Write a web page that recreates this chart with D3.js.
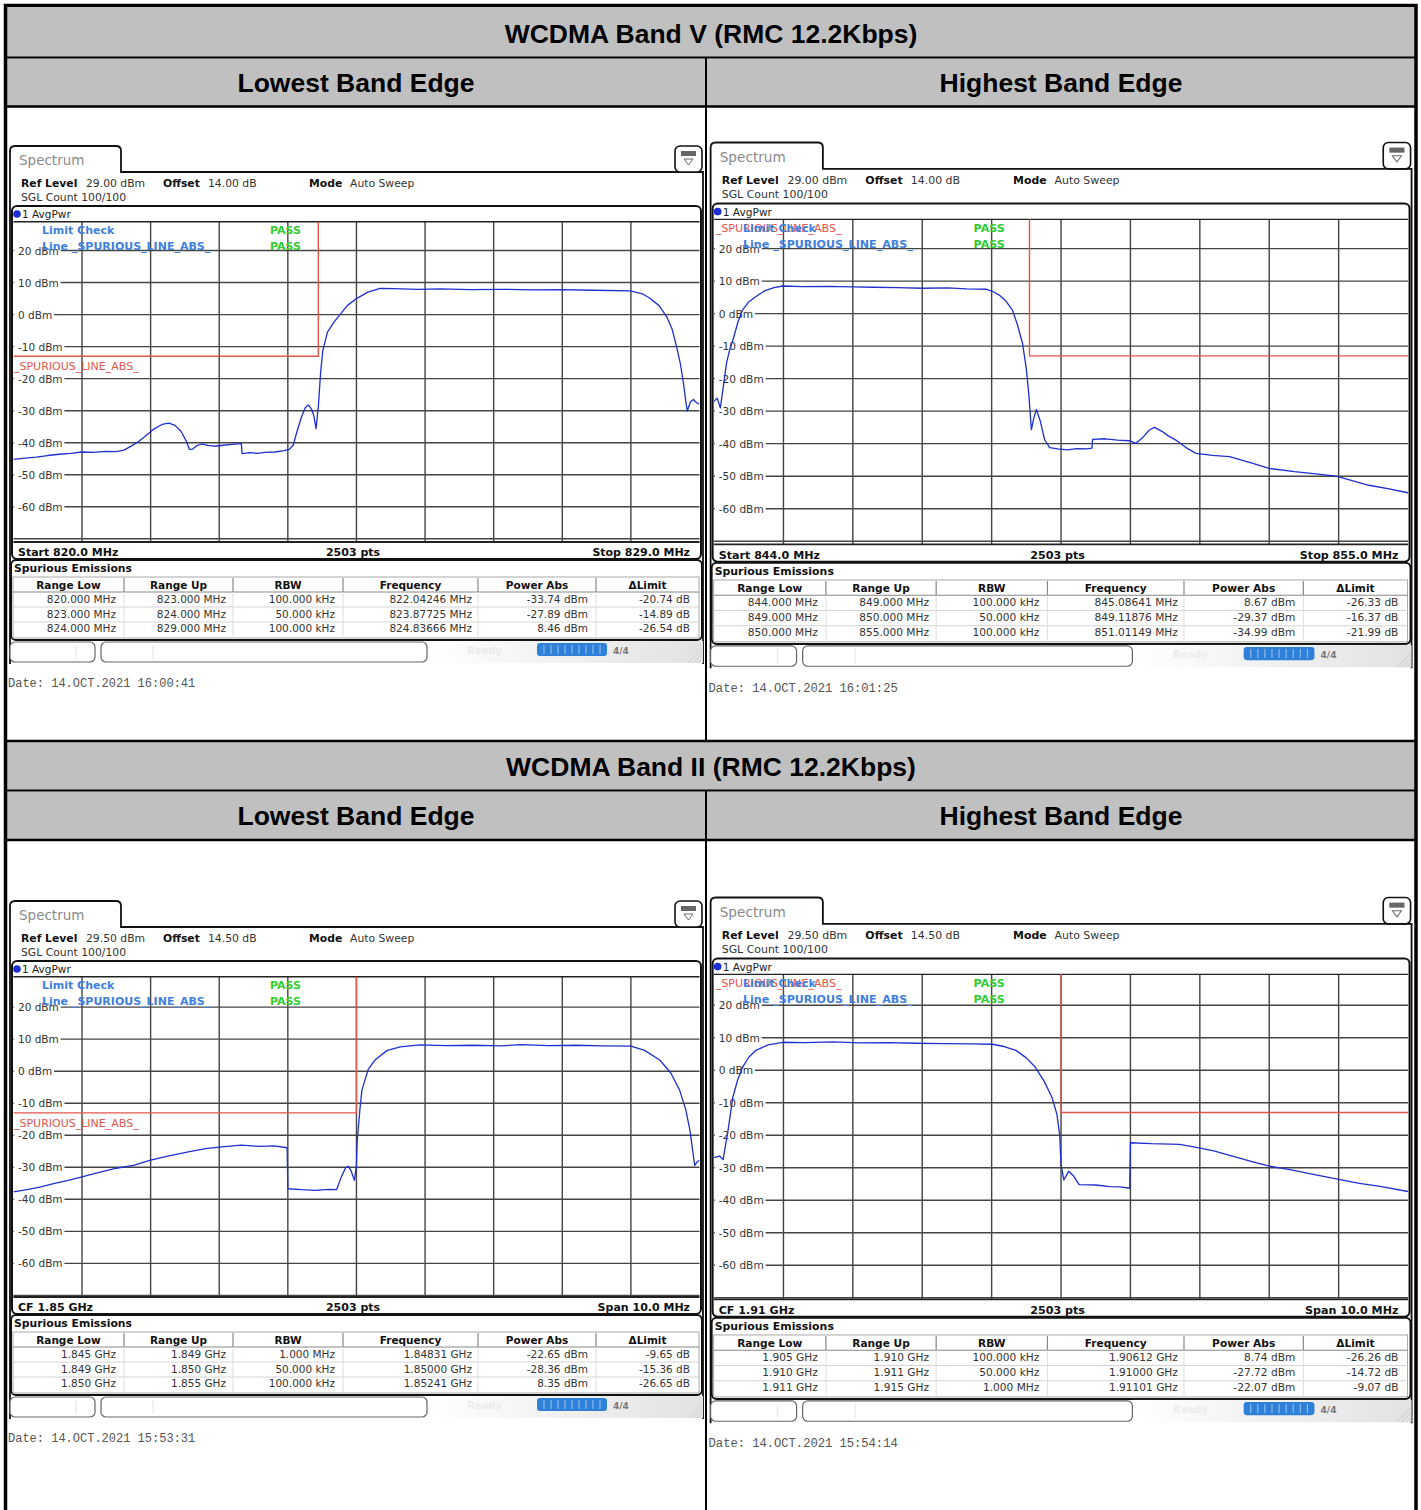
<!DOCTYPE html>
<html>
<head>
<meta charset="utf-8">
<script src="https://cdn.jsdelivr.net/npm/d3@7"></script>
<style>
  body { margin: 0; background: #fff; }
</style>
</head>
<body>
<div id="chart"></div>
<script>
// ---- data ----
const sectionTitles = ["WCDMA Band V (RMC 12.2Kbps)", "WCDMA Band II (RMC 12.2Kbps)"];
const edgeTitles = ["Lowest Band Edge", "Highest Band Edge"];

// [MHz, dBm]
const bandVLowTrace = [[820.0,-45.2],[820.15,-44.8],[820.3,-44.5],[820.45,-44.0],[820.6,-43.6],[820.75,-43.3],[820.9,-42.9],[821.05,-43.0],[821.2,-42.7],[821.35,-42.8],[821.45,-42.3],[821.55,-41.0],[821.65,-39.5],[821.75,-37.6],[821.85,-35.6],[821.95,-34.3],[822.04,-33.9],[822.12,-34.6],[822.2,-36.5],[822.27,-39.6],[822.31,-42.1],[822.35,-42.0],[822.4,-41.0],[822.47,-40.4],[822.55,-40.8],[822.64,-41.1],[822.75,-40.8],[822.87,-40.5],[822.99,-40.3],[823.0,-43.4],[823.1,-43.1],[823.2,-43.3],[823.3,-43.0],[823.43,-42.9],[823.55,-42.5],[823.62,-42.1],[823.67,-40.8],[823.72,-36.5],[823.78,-31.9],[823.83,-29.0],[823.87,-28.2],[823.91,-29.5],[823.94,-31.5],[823.97,-35.6],[823.99,-31.0],[824.0,-28.8],[824.03,-18.0],[824.06,-11.1],[824.12,-5.5],[824.2,-2.5],[824.26,-0.7],[824.38,2.8],[824.5,5.0],[824.65,7.0],[824.81,8.2],[825.0,8.1],[825.3,7.9],[825.6,8.0],[826.0,7.8],[826.4,7.9],[826.8,7.7],[827.2,7.8],[827.6,7.6],[828.09,7.4],[828.25,6.5],[828.35,5.1],[828.47,2.8],[828.57,-0.7],[828.64,-4.5],[828.7,-10.1],[828.75,-15.5],[828.79,-21.5],[828.82,-27.0],[828.84,-30.1],[828.88,-27.3],[828.92,-26.5],[828.96,-27.5],[829.0,-28.0]];

const bandVHighTrace = [[844.0,-27.0],[844.05,-26.0],[844.1,-29.0],[844.15,-22.0],[844.2,-15.0],[844.25,-11.0],[844.3,-8.1],[844.38,-2.5],[844.45,1.1],[844.55,3.6],[844.66,5.2],[844.8,7.0],[844.95,8.0],[845.09,8.5],[845.4,8.3],[845.8,8.4],[846.2,8.2],[846.51,8.1],[846.9,8.0],[847.3,7.8],[847.7,7.9],[848.0,7.6],[848.31,7.5],[848.42,6.8],[848.52,5.7],[848.63,3.8],[848.73,1.1],[848.81,-3.5],[848.89,-9.2],[848.95,-17.0],[848.99,-25.0],[849.03,-35.7],[849.07,-32.0],[849.11,-29.5],[849.17,-33.0],[849.24,-38.8],[849.32,-41.2],[849.45,-41.6],[849.6,-41.9],[849.75,-41.5],[849.9,-41.6],[849.99,-41.4],[850.0,-38.7],[850.2,-38.5],[850.4,-38.9],[850.58,-39.1],[850.69,-39.9],[850.8,-38.0],[850.9,-35.8],[850.98,-35.0],[851.1,-36.2],[851.2,-37.6],[851.32,-38.9],[851.48,-41.2],[851.64,-43.0],[851.9,-43.6],[852.17,-44.0],[852.5,-45.8],[852.8,-47.6],[853.2,-48.6],[853.5,-49.2],[853.86,-50.0],[854.1,-51.3],[854.38,-52.8],[854.7,-53.9],[855.0,-55.1]];

const bandIILowTrace = [[1845.0,-37.7],[1845.2,-37.0],[1845.4,-36.1],[1845.6,-35.0],[1845.8,-34.1],[1846.0,-33.0],[1846.25,-31.6],[1846.5,-30.3],[1846.75,-29.4],[1847.0,-27.8],[1847.25,-26.5],[1847.55,-25.2],[1847.8,-24.2],[1848.0,-23.7],[1848.32,-23.1],[1848.6,-23.5],[1848.8,-23.3],[1848.99,-23.9],[1849.0,-36.7],[1849.2,-37.0],[1849.4,-37.2],[1849.6,-36.9],[1849.71,-37.0],[1849.78,-33.0],[1849.84,-30.2],[1849.88,-29.7],[1849.92,-31.0],[1849.97,-34.1],[1850.0,-29.4],[1850.01,-22.1],[1850.05,-12.0],[1850.08,-5.9],[1850.17,0.5],[1850.27,3.5],[1850.45,6.5],[1850.64,7.6],[1850.93,8.2],[1851.3,8.0],[1851.7,8.1],[1852.1,7.9],[1852.41,8.3],[1852.8,8.0],[1853.2,8.1],[1853.6,7.9],[1854.0,7.8],[1854.2,6.5],[1854.42,3.5],[1854.58,-0.5],[1854.71,-5.9],[1854.8,-12.0],[1854.86,-18.4],[1854.93,-29.4],[1854.97,-28.2],[1855.0,-27.8]];

const bandIIHighTrace = [[1905.0,-26.9],[1905.08,-26.4],[1905.13,-27.5],[1905.2,-18.7],[1905.27,-8.4],[1905.34,-3.0],[1905.41,0.9],[1905.5,4.0],[1905.6,6.1],[1905.78,7.8],[1905.99,8.6],[1906.3,8.5],[1906.71,8.7],[1907.1,8.4],[1907.5,8.5],[1907.9,8.3],[1908.3,8.2],[1908.7,8.1],[1909.01,8.0],[1909.18,7.3],[1909.35,6.1],[1909.5,3.8],[1909.63,0.9],[1909.76,-3.5],[1909.87,-8.4],[1909.94,-13.5],[1909.98,-19.7],[1910.0,-29.0],[1910.04,-33.7],[1910.11,-31.1],[1910.18,-32.5],[1910.26,-35.2],[1910.5,-35.3],[1910.7,-35.8],[1910.85,-35.9],[1910.99,-36.3],[1911.0,-22.3],[1911.3,-22.6],[1911.71,-22.8],[1911.99,-23.9],[1912.2,-24.8],[1912.47,-26.4],[1912.75,-28.1],[1913.0,-29.5],[1913.3,-30.6],[1913.6,-31.9],[1914.0,-33.6],[1914.3,-34.8],[1914.6,-35.7],[1915.0,-37.3]];

// limit lines, [MHz, dBm] (60 = off the top of the screen)
const bandVLowLimit = [[820, -13], [824, -13], [824, 60]];
const bandVHighLimit = [[849, 60], [849, -13], [855, -13]];
const bandIILowLimit = [[1845, -13], [1850, -13], [1850, 60]];
const bandIIHighLimit = [[1910, 60], [1910, -13], [1915, -13]];

const levelTicks = [20, 10, 0, -10, -20, -30, -40, -50, -60];
const gridLevels = [20, 10, 0, -10, -20, -30, -40, -50, -60, -70];

const spurHeaders = ["Range Low", "Range Up", "RBW", "Frequency", "Power Abs", "\u0394Limit"];
const bandVLowRows = [
  ["820.000 MHz", "823.000 MHz", "100.000 kHz", "822.04246 MHz", "-33.74 dBm", "-20.74 dB"],
  ["823.000 MHz", "824.000 MHz", "50.000 kHz", "823.87725 MHz", "-27.89 dBm", "-14.89 dB"],
  ["824.000 MHz", "829.000 MHz", "100.000 kHz", "824.83666 MHz", "8.46 dBm", "-26.54 dB"]
];
const bandVHighRows = [
  ["844.000 MHz", "849.000 MHz", "100.000 kHz", "845.08641 MHz", "8.67 dBm", "-26.33 dB"],
  ["849.000 MHz", "850.000 MHz", "50.000 kHz", "849.11876 MHz", "-29.37 dBm", "-16.37 dB"],
  ["850.000 MHz", "855.000 MHz", "100.000 kHz", "851.01149 MHz", "-34.99 dBm", "-21.99 dB"]
];
const bandIILowRows = [
  ["1.845 GHz", "1.849 GHz", "1.000 MHz", "1.84831 GHz", "-22.65 dBm", "-9.65 dB"],
  ["1.849 GHz", "1.850 GHz", "50.000 kHz", "1.85000 GHz", "-28.36 dBm", "-15.36 dB"],
  ["1.850 GHz", "1.855 GHz", "100.000 kHz", "1.85241 GHz", "8.35 dBm", "-26.65 dB"]
];
const bandIIHighRows = [
  ["1.905 GHz", "1.910 GHz", "100.000 kHz", "1.90612 GHz", "8.74 dBm", "-26.26 dB"],
  ["1.910 GHz", "1.911 GHz", "50.000 kHz", "1.91000 GHz", "-27.72 dBm", "-14.72 dB"],
  ["1.911 GHz", "1.915 GHz", "1.000 MHz", "1.91101 GHz", "-22.07 dBm", "-9.07 dB"]
];

const panels = [
  { tx: 10, ty: 146, sx: 1, sy: 1, f0: 820, f1: 829, ref: 29, refTxt: "29.00 dBm", offTxt: "14.00 dB",
    left: "Start 820.0 MHz", right: "Stop 829.0 MHz", trace: bandVLowTrace, limit: bandVLowLimit,
    rows: bandVLowRows, date: "Date: 14.OCT.2021  16:00:41", labelTop: false },
  { tx: 710.6, ty: 142.5, sx: 1.0115, sy: 1.015, f0: 844, f1: 855, ref: 29, refTxt: "29.00 dBm", offTxt: "14.00 dB",
    left: "Start 844.0 MHz", right: "Stop 855.0 MHz", trace: bandVHighTrace, limit: bandVHighLimit,
    rows: bandVHighRows, date: "Date: 14.OCT.2021  16:01:25", labelTop: true },
  { tx: 10, ty: 901, sx: 1, sy: 1, f0: 1845, f1: 1855, ref: 29.5, refTxt: "29.50 dBm", offTxt: "14.50 dB",
    left: "CF 1.85 GHz", right: "Span 10.0 MHz", trace: bandIILowTrace, limit: bandIILowLimit,
    rows: bandIILowRows, date: "Date: 14.OCT.2021  15:53:31", labelTop: false },
  { tx: 710.6, ty: 897.5, sx: 1.0115, sy: 1.015, f0: 1905, f1: 1915, ref: 29.5, refTxt: "29.50 dBm", offTxt: "14.50 dB",
    left: "CF 1.91 GHz", right: "Span 10.0 MHz", trace: bandIIHighTrace, limit: bandIIHighLimit,
    rows: bandIIHighRows, date: "Date: 14.OCT.2021  15:54:14", labelTop: true }
];

// ---- page ----
const W = 1421, H = 1510;
const svg = d3.select("#chart").append("svg")
  .attr("width", W).attr("height", H)
  .style("display", "block");

const defs = svg.append("defs");
const tbGrad = defs.append("linearGradient").attr("id", "tbGrad");
tbGrad.append("stop").attr("offset", "0%").attr("stop-color", "#ffffff");
tbGrad.append("stop").attr("offset", "100%").attr("stop-color", "#e2e2e2");

svg.append("rect").attr("width", W).attr("height", H).attr("fill", "#fff");

// outer report table
const gray = "#c0c0c0";
[[8, 57], [58.5, 106], [742, 790], [791.5, 840]].forEach(r => {
  svg.append("rect").attr("x", 6).attr("y", r[0]).attr("width", 1410).attr("height", r[1] - r[0]).attr("fill", gray);
});
const tbl = svg.append("g").attr("stroke", "#000");
[[57.5, 2], [106.5, 2.5], [741, 2.5], [790.5, 2], [840, 2.5]].forEach(l => {
  tbl.append("line").attr("x1", 5).attr("x2", 1417).attr("y1", l[0]).attr("y2", l[0]).attr("stroke-width", l[1]);
});
tbl.append("line").attr("x1", 706).attr("x2", 706).attr("y1", 57).attr("y2", 741).attr("stroke-width", 2);
tbl.append("line").attr("x1", 706).attr("x2", 706).attr("y1", 790).attr("y2", 1512).attr("stroke-width", 2);
tbl.append("rect").attr("x", 5.5).attr("y", 5.5).attr("width", 1410.5).attr("height", 1510)
  .attr("fill", "none").attr("stroke-width", 3.5);

const titleFont = "'Liberation Sans', Arial, sans-serif";
sectionTitles.forEach((t, i) => {
  svg.append("text").attr("x", 711).attr("y", i === 0 ? 43 : 776)
    .attr("text-anchor", "middle").style("font-family", titleFont).style("font-weight", "bold")
    .style("font-size", "26.5px").text(t);
  edgeTitles.forEach((e, j) => {
    svg.append("text").attr("x", j === 0 ? 356 : 1061).attr("y", i === 0 ? 92 : 825)
      .attr("text-anchor", "middle").style("font-family", titleFont).style("font-weight", "bold")
      .style("font-size", "26.5px").text(e);
  });
});

// ---- one analyzer screenshot ----
const uiFont = "'DejaVu Sans', Verdana, sans-serif";
const gx0 = 3.4, gx1 = 689.5, gy0 = 75.7, gy1 = 396;

function drawPanel(p, idx) {
  const g = svg.append("g").attr("transform", `translate(${p.tx},${p.ty}) scale(${p.sx},${p.sy})`);
  const txt = (x, y, s, opt = {}) => g.append("text").attr("x", x).attr("y", y)
    .attr("text-anchor", opt.anchor || "start")
    .style("font-family", opt.family || uiFont).style("font-size", (opt.size || 11) + "px")
    .style("font-weight", opt.bold ? "bold" : "normal").attr("fill", opt.color || "#111").text(s);

  // tab + frame
  g.append("path")
    .attr("d", "M0,518 L0,5 Q0,0 5,0 L106,0 Q111,0 111,5 L111,26 L693,26 L693,518")
    .attr("fill", "none").attr("stroke", "#111").attr("stroke-width", 1.8);
  txt(9, 19, "Spectrum", { size: 13.5, color: "#8a8a8a" });

  // icon top right
  g.append("rect").attr("x", 665).attr("y", 0).attr("width", 27).attr("height", 26).attr("rx", 5)
    .attr("fill", "#fff").attr("stroke", "#111").attr("stroke-width", 1.6);
  g.append("rect").attr("x", 671).attr("y", 5).attr("width", 15).attr("height", 5).attr("fill", "#666");
  g.append("path").attr("d", "M674,13 L683,13 L678.5,19 Z").attr("fill", "none").attr("stroke", "#666").attr("stroke-width", 1);

  // header
  txt(11, 41, "Ref Level", { bold: true, size: 10.8 });
  txt(76, 41, p.refTxt, { size: 10.8, color: "#333" });
  txt(153, 41, "Offset", { bold: true, size: 10.8 });
  txt(198, 41, p.offTxt, { size: 10.8, color: "#333" });
  txt(299, 41, "Mode", { bold: true, size: 10.8 });
  txt(340, 41, "Auto Sweep", { size: 10.8, color: "#333" });
  txt(11, 55, "SGL Count 100/100", { size: 10.8, color: "#333" });

  // plot box
  g.append("rect").attr("x", 2).attr("y", 60).attr("width", 689).attr("height", 353).attr("rx", 5)
    .attr("fill", "#fff").attr("stroke", "#111").attr("stroke-width", 2);
  g.append("circle").attr("cx", 7).attr("cy", 68).attr("r", 3.8).attr("fill", "#1c2fd6");
  txt(12, 72, "1 AvgPwr", { size: 10.5, color: "#222" });

  const x = d3.scaleLinear().domain([p.f0, p.f1]).range([gx0, gx1]);
  const y = d3.scaleLinear().domain([p.ref - 100, p.ref]).range([gy1, gy0]);

  // grid
  const grid = g.append("g").attr("stroke", "#454545").attr("stroke-width", 1.4);
  d3.range(1, 10).map(i => p.f0 + i * (p.f1 - p.f0) / 10).forEach(f => {
    grid.append("line").attr("x1", x(f)).attr("x2", x(f)).attr("y1", gy0).attr("y2", gy1);
  });
  gridLevels.forEach(v => {
    grid.append("line").attr("x1", gx0).attr("x2", gx1).attr("y1", y(v)).attr("y2", y(v));
  });
  grid.append("line").attr("x1", gx0).attr("x2", gx1).attr("y1", gy0).attr("y2", gy0).attr("stroke", "#222");
  grid.append("line").attr("x1", gx0).attr("x2", gx1).attr("y1", gy1).attr("y2", gy1).attr("stroke", "#222").attr("stroke-width", 1.8);

  // level labels (white backing over the grid line)
  levelTicks.forEach(v => {
    const t = txt(8, y(v) + 4, v + " dBm", { size: 10.5, color: "#333" });
    const w = t.node().getComputedTextLength();
    g.insert("rect", () => t.node()).attr("x", gx0 + 0.8).attr("y", y(v) - 2).attr("width", 8 - gx0 + w + 1)
      .attr("height", 4).attr("fill", "#fff");
  });

  // clip
  const cid = "clip" + idx;
  defs.append("clipPath").attr("id", cid).append("rect")
    .attr("x", gx0).attr("y", gy0).attr("width", gx1 - gx0).attr("height", gy1 - gy0);

  // limit line
  const line = d3.line().x(d => x(d[0])).y(d => y(d[1]));
  g.append("path").datum(p.limit).attr("d", line).attr("clip-path", `url(#${cid})`)
    .attr("fill", "none").attr("stroke", "#e2574c").attr("stroke-width", 1.4);

  // limit check text (overlaps as on the instrument screen)
  if (p.labelTop) txt(5, 88, "_SPURIOUS_LINE_ABS_", { size: 11, color: "#e2574c" });
  else txt(4, y(-13) + 14, "_SPURIOUS_LINE_ABS_", { size: 11, color: "#e2574c" });
  txt(32, 88, "Limit Check", { size: 11, bold: true, color: "#3f80e0" });
  txt(32, 104, "Line _SPURIOUS_LINE_ABS_", { size: 11, bold: true, color: "#3f80e0" });
  txt(260, 88, "PASS", { size: 11, bold: true, color: "#33cc33" });
  txt(260, 104, "PASS", { size: 11, bold: true, color: "#33cc33" });

  // trace
  g.append("path").datum(p.trace).attr("d", line).attr("clip-path", `url(#${cid})`)
    .attr("fill", "none").attr("stroke", "#1f30cf").attr("stroke-width", 1.3).attr("stroke-linejoin", "round");

  // bottom info bar
  txt(8, 410, p.left, { size: 11, bold: true });
  txt(343, 410, "2503 pts", { size: 11, bold: true, anchor: "middle" });
  txt(680, 410, p.right, { size: 11, bold: true, anchor: "end" });

  // spurious emissions table
  g.append("rect").attr("x", 1).attr("y", 414).attr("width", 691).attr("height", 80).attr("rx", 5)
    .attr("fill", "#fff").attr("stroke", "#111").attr("stroke-width", 2);
  txt(4, 426, "Spurious Emissions", { size: 10.8, bold: true });
  const colEdges = [3, 114, 223, 333, 468, 586, 689];
  const rAlign = [106, 216, 325, 462, 578, 680];
  g.append("rect").attr("x", 3).attr("y", 431).attr("width", 686).attr("height", 61)
    .attr("fill", "#fff").attr("stroke", "#aaa").attr("stroke-width", 1);
  [446, 461, 476].forEach(yy => {
    g.append("line").attr("x1", 3).attr("x2", 689).attr("y1", yy).attr("y2", yy)
      .attr("stroke", yy === 446 ? "#888" : "#d4d4d4").attr("stroke-width", 1);
  });
  colEdges.slice(1, 6).forEach(cx => {
    g.append("line").attr("x1", cx).attr("x2", cx).attr("y1", 432).attr("y2", 446)
      .attr("stroke", "#888").attr("stroke-width", 1.2);
    g.append("line").attr("x1", cx).attr("x2", cx).attr("y1", 446).attr("y2", 492)
      .attr("stroke", "#ddd").attr("stroke-width", 1);
  });
  spurHeaders.forEach((h, i) => {
    txt((colEdges[i] + colEdges[i + 1]) / 2, 443, h, { size: 10.5, bold: true, anchor: "middle" });
  });
  p.rows.forEach((r, ri) => {
    r.forEach((c, ci) => txt(rAlign[ci], 457 + ri * 14.7, c, { size: 10.5, anchor: "end", color: "#333" }));
  });

  // toolbar
  g.append("rect").attr("x", 418).attr("y", 495).attr("width", 275).attr("height", 22).attr("fill", "url(#tbGrad)");
  g.append("rect").attr("x", 0).attr("y", 496).attr("width", 85).attr("height", 20).attr("rx", 5)
    .attr("fill", "#fff").attr("stroke", "#666").attr("stroke-width", 1.2);
  g.append("line").attr("x1", 66).attr("x2", 66).attr("y1", 499).attr("y2", 513).attr("stroke", "#e4e4e4");
  g.append("rect").attr("x", 91).attr("y", 496).attr("width", 326).attr("height", 20).attr("rx", 5)
    .attr("fill", "#fff").attr("stroke", "#666").attr("stroke-width", 1.2);
  g.append("line").attr("x1", 143).attr("x2", 143).attr("y1", 499).attr("y2", 513).attr("stroke", "#e4e4e4");
  txt(457, 508, "Ready", { size: 10, bold: true, color: "#ececec" });
  g.append("rect").attr("x", 527).attr("y", 497).attr("width", 70).attr("height", 13).attr("rx", 3).attr("fill", "#2f80d8");
  d3.range(1, 10).forEach(i => {
    g.append("line").attr("x1", 527 + i * 7).attr("x2", 527 + i * 7).attr("y1", 499).attr("y2", 508)
      .attr("stroke", "#9cc4ee").attr("stroke-width", 1);
  });
  txt(603, 508, "4/4", { size: 9, bold: true, color: "#777" });
  [0, 5, 10].forEach(o => {
    g.append("line").attr("x1", 678 + o).attr("y1", 517).attr("x2", 692).attr("y2", 503 + o)
      .attr("stroke", "#d0d0d0").attr("stroke-width", 1);
  });

  txt(-2, 541, p.date, { size: 12, color: "#555", family: "'Liberation Mono', 'Courier New', monospace" });
}

panels.forEach(drawPanel);
</script>
</body>
</html>
